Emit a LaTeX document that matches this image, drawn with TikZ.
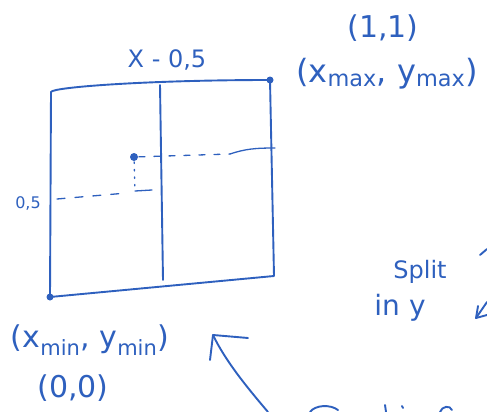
\documentclass[tikz,border=0pt]{standalone}
\usepackage{fontspec}
\setmainfont{DejaVu Sans}
\definecolor{ink}{RGB}{46,96,190}
\begin{document}
\begin{tikzpicture}[x=1pt,y=-1pt, draw=ink, line width=1.9pt, line cap=round, line join=round,
  lbl/.style={text=ink, inner sep=0pt, font=\fontsize{#1}{#1}\selectfont},
  dotmark/.style={circle, fill=ink, draw=none, inner sep=0pt, minimum size=7pt}]
\useasboundingbox (0,0) rectangle (487,412);
% square
\coordinate (tl) at (51,92);
\node[dotmark] (tr) at (270,80) {};
\node[dotmark] (bl) at (50,297) {};
\coordinate (br) at (274,276);
\coordinate (mt) at (160,85);
\coordinate (mb) at (163,280);
\draw (tl) -- (bl.center) -- (br) -- (tr.center);
\draw (tl) .. controls (53,87) and (150,80) .. (tr.center);
\draw (mt) -- (mb);
% point and projections
\node[dotmark, minimum size=8pt] (p) at (134,157) {};
\coordinate (qd) at (230,154);
\coordinate (q) at (275,148);
\draw[line width=1.3pt, dash pattern=on 6pt off 9pt] (p) -- (qd);
\draw[line width=1.3pt] (qd) .. controls (245,149) and (255,148) .. (q);
\coordinate (pd) at (135,191);
\coordinate (pe) at (152,190);
\draw[line width=1.3pt, dash pattern=on 1.5pt off 6pt] (p) -- (pd);
\draw[line width=1.3pt] (pd) -- (pe);
\coordinate (ld) at (57,199);
\coordinate (le) at (127,193);
\draw[line width=1.3pt, dash pattern=on 8pt off 10pt] (ld) -- (le);
% labels
\node[lbl=16] (half) at (28,203) {0,5};
\node[lbl=24] (xh) at (167,60) {X - 0,5};
\node[lbl=30] (one) at (383,28) {(1,1)};
\node[lbl=32] (max) at (387,74) {(x\textsubscript{max}, y\textsubscript{max})};
\node[lbl=30] (min) at (90,340) {(x\textsubscript{min}, y\textsubscript{min})};
\node[lbl=30] (zero) at (73,388) {(0,0)};
\node[lbl=24] (split) at (420,272) {Split};
\node[lbl=28] (iny) at (400,308) {in\,\,y};
% big arrow
\coordinate (a0) at (268,412);
\coordinate (a1) at (213,335);
\draw (a0) .. controls (245,385) and (225,360) .. (a1);
\draw (248,338) -- (a1) -- (210,360);
% partial marks at the right edge
\coordinate (r1) at (480,255);
\coordinate (r2) at (487,249);
\draw (r1) -- (r2);
\coordinate (s0) at (487,302);
\coordinate (s1) at (476,318);
\draw (s0) -- (s1);
\draw (478,306) -- (s1) -- (487,315);
% partial marks at the bottom edge
\draw (310,412) .. controls (315,405) and (330,404) .. (338,410);
\draw (385,405) -- (386,412);
\draw (402,406) -- (403,408);
\draw (440,412) .. controls (442,406) and (450,405) .. (452,410);
\end{tikzpicture}
\end{document}
